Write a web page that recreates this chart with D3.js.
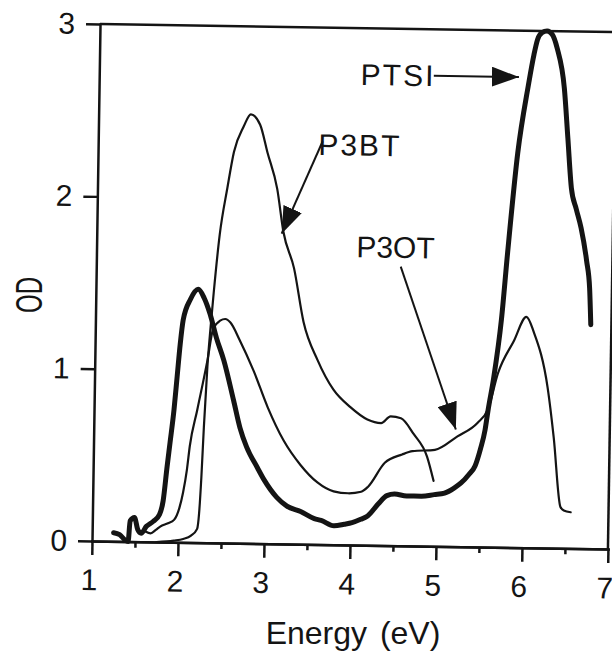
<!DOCTYPE html>
<html>
<head>
<meta charset="utf-8">
<script src="https://cdn.jsdelivr.net/npm/d3@7"></script>
<style>
    body { margin: 0; background: #fff; }
    svg text { font-family: "Liberation Sans", Arial, sans-serif; fill: #141414; }
    .axis path, .axis line, .frame { stroke: #141414; stroke-width: 2.5px; }
    .axis text { font-size: 30px; }
    .curve { fill: none; stroke: #141414; stroke-linejoin: round; stroke-linecap: round; }
    .label { font-size: 30px; }
    .pointer { stroke: #141414; stroke-width: 2px; }
</style>
</head>
<body>
<div id="chart"></div>
<script>
// Energy (eV) / optical density
const ptsiEnergy = [1.25, 1.32, 1.38, 1.42, 1.44, 1.49, 1.53, 1.57, 1.63, 1.71, 1.78, 1.82, 1.86, 1.89, 1.93, 1.96, 1.99, 2.02, 2.10, 2.19,
    2.26, 2.33, 2.41, 2.50, 2.62, 2.70, 2.78, 2.91, 2.99, 3.14, 3.26, 3.42, 3.58, 3.66, 3.81, 3.93, 4.02, 4.12, 4.20, 4.32,
    4.42, 4.51, 4.65, 4.82, 4.97, 5.09, 5.20, 5.28, 5.37, 5.44, 5.50, 5.55, 5.58, 5.64, 5.72, 5.78, 5.88, 5.99, 6.05, 6.09,
    6.14, 6.20, 6.26, 6.32, 6.41, 6.46, 6.51, 6.57, 6.63, 6.70, 6.74, 6.76];
const ptsiOD = [0.05, 0.04, 0.01, 0.00, 0.12, 0.14, 0.07, 0.05, 0.09, 0.12, 0.16, 0.24, 0.44, 0.58, 0.77, 0.96, 1.15, 1.29, 1.41, 1.47,
    1.42, 1.33, 1.19, 1.06, 0.83, 0.67, 0.56, 0.44, 0.37, 0.27, 0.22, 0.19, 0.15, 0.14, 0.11, 0.12, 0.13, 0.15, 0.17, 0.24,
    0.29, 0.30, 0.29, 0.29, 0.30, 0.31, 0.34, 0.37, 0.42, 0.47, 0.57, 0.68, 0.79, 0.98, 1.32, 1.71, 2.29, 2.68, 2.86, 2.95,
    2.99, 3.00, 2.98, 2.90, 2.67, 2.38, 2.09, 1.97, 1.86, 1.67, 1.51, 1.30];

const p3otEnergy = [1.62, 1.68, 1.74, 1.79, 1.88, 1.95, 2.01, 2.05, 2.09, 2.12, 2.20, 2.31, 2.37, 2.45, 2.51, 2.57, 2.68, 2.85, 3.02, 3.21,
    3.41, 3.61, 3.80, 3.97, 4.12, 4.20, 4.39, 4.59, 4.71, 4.97, 5.23, 5.46, 5.58, 5.69, 5.87, 6.01, 6.10, 6.27, 6.35, 6.44,
    6.48, 6.56];
const p3otOD = [0.06, 0.05, 0.07, 0.09, 0.11, 0.13, 0.20, 0.29, 0.42, 0.56, 0.77, 1.06, 1.24, 1.29, 1.30, 1.28, 1.18, 1.00, 0.79, 0.60,
    0.46, 0.36, 0.31, 0.30, 0.31, 0.34, 0.48, 0.53, 0.55, 0.56, 0.64, 0.72, 0.80, 1.01, 1.20, 1.34, 1.25, 0.93, 0.64, 0.24,
    0.22, 0.21];

const p3btEnergy = [1.75, 1.95, 2.06, 2.15, 2.22, 2.24, 2.26, 2.28, 2.31, 2.34, 2.37, 2.43, 2.51, 2.58, 2.69, 2.77, 2.88, 2.97, 3.09, 3.17,
    3.30, 3.42, 3.59, 3.78, 3.98, 4.18, 4.34, 4.45, 4.57, 4.72, 4.88, 4.96];
const p3btOD = [0.00, 0.01, 0.02, 0.04, 0.08, 0.17, 0.38, 0.67, 1.02, 1.25, 1.45, 1.79, 2.06, 2.27, 2.42, 2.49, 2.43, 2.27, 2.06, 1.81,
    1.60, 1.29, 1.07, 0.90, 0.80, 0.73, 0.71, 0.75, 0.74, 0.65, 0.52, 0.38];

const xTicks = [1, 2, 3, 4, 5, 6, 7];
const xMinorTicks = [1.5, 2.5, 3.5, 4.5, 5.5, 6.5];
const yTicks = [0, 1, 2, 3];

// curve name, text anchor (eV, OD), arrow start and tip (eV, OD)
const labelNames = ["PTSI", "P3BT", "P3OT"];
const labelAt = [[4.04, 2.67], [3.56, 2.26], [4.02, 1.67]];
const arrowFrom = [[4.89, 2.73], [3.61, 2.34], [4.54, 1.62]];
const arrowTo = [[5.88, 2.73], [3.15, 1.80], [5.21, 0.68]];

const width = 612, height = 653;

const svg = d3.select("#chart").append("svg")
    .attr("width", width)
    .attr("height", height);

svg.append("defs").append("marker")
    .attr("id", "head")
    .attr("viewBox", "0 0 10 10")
    .attr("refX", 10)
    .attr("refY", 5)
    .attr("markerUnits", "userSpaceOnUse")
    .attr("markerWidth", 27)
    .attr("markerHeight", 20)
    .attr("preserveAspectRatio", "none")
    .attr("orient", "auto")
    .append("path")
    .attr("d", "M0,0 L10,5 L0,10 Z")
    .attr("fill", "#141414");

// the scanned figure sits slightly tilted, so the plot is turned with it
const plot = svg.append("g")
    .attr("transform", "rotate(0.89, 92, 541)");

const x = d3.scaleLinear().domain([1, 7]).range([92, 608]);
const y = d3.scaleLinear().domain([0, 3]).range([541, 24]);

// frame (top and right)
plot.append("line").attr("class", "frame")
    .attr("x1", x(1)).attr("x2", x(7)).attr("y1", y(3)).attr("y2", y(3));
plot.append("line").attr("class", "frame")
    .attr("x1", x(7)).attr("x2", x(7)).attr("y1", y(3)).attr("y2", y(0));

plot.append("g")
    .attr("class", "axis")
    .attr("transform", `translate(0, ${y(0)})`)
    .call(d3.axisBottom(x).tickValues(xMinorTicks).tickSize(6).tickSizeOuter(0).tickFormat(""));

const xAxis = plot.append("g")
    .attr("class", "axis")
    .attr("transform", `translate(0, ${y(0)})`)
    .call(d3.axisBottom(x).tickValues(xTicks).tickSize(14).tickSizeOuter(0).tickPadding(14).tickFormat(d3.format("d")));
xAxis.selectAll("text").attr("dx", -3);

plot.append("g")
    .attr("class", "axis")
    .attr("transform", `translate(${x(1)}, 0)`)
    .call(d3.axisLeft(y).tickValues(yTicks).tickSize(14).tickSizeOuter(0).tickPadding(11).tickFormat(d3.format("d")));

plot.selectAll(".domain").attr("stroke-linecap", "square");

// spectra
const line = d3.line()
    .x(d => x(d[0]))
    .y(d => y(d[1]))
    .curve(d3.curveMonotoneX);

const series = [
    {name: "P3BT", e: p3btEnergy, od: p3btOD, w: 2.2},
    {name: "P3OT", e: p3otEnergy, od: p3otOD, w: 2.2},
    {name: "PTSI", e: ptsiEnergy, od: ptsiOD, w: 5}
];

plot.selectAll(".curve")
    .data(series)
    .join("path")
    .attr("class", "curve")
    .attr("stroke-width", d => d.w)
    .attr("d", d => line(d3.zip(d.e, d.od)));

// labels with pointers
plot.selectAll(".pointer")
    .data(labelNames)
    .join("line")
    .attr("class", "pointer")
    .attr("x1", (d, i) => x(arrowFrom[i][0]))
    .attr("y1", (d, i) => y(arrowFrom[i][1]))
    .attr("x2", (d, i) => x(arrowTo[i][0]))
    .attr("y2", (d, i) => y(arrowTo[i][1]))
    .attr("marker-end", "url(#head)");

plot.selectAll(".label")
    .data(labelNames)
    .join("text")
    .attr("class", "label")
    .attr("x", (d, i) => x(labelAt[i][0]))
    .attr("y", (d, i) => y(labelAt[i][1]))
    .attr("letter-spacing", (d, i) => i === 2 ? 0 : 2)
    .text(d => d);

// axis titles
svg.append("text")
    .attr("x", 353)
    .attr("y", 644)
    .attr("text-anchor", "middle")
    .attr("font-size", 32)
    .attr("word-spacing", 4)
    .text("Energy (eV)");

svg.append("text")
    .attr("transform", "translate(42, 295) rotate(-90)")
    .attr("text-anchor", "middle")
    .attr("font-size", 37)
    .attr("textLength", 36)
    .attr("lengthAdjust", "spacingAndGlyphs")
    .text("OD");
</script>
</body>
</html>
